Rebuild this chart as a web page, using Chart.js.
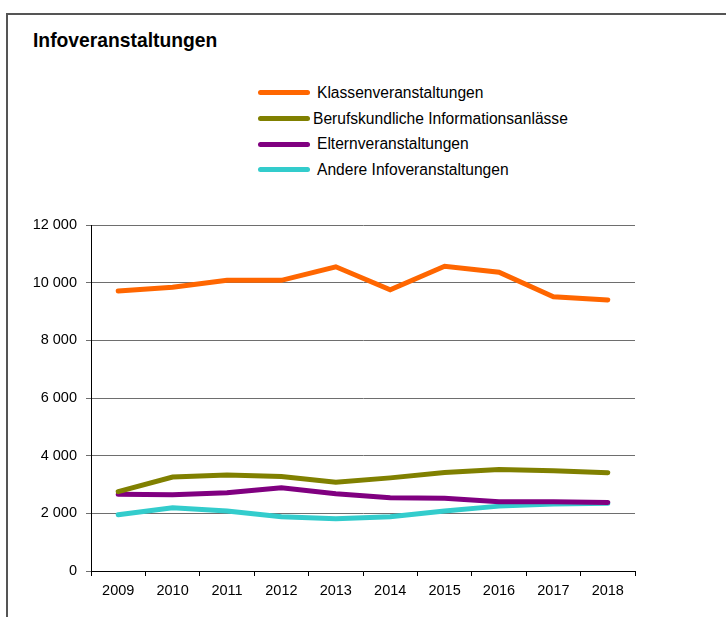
<!DOCTYPE html>
<html lang="de">
<head>
  <meta charset="UTF-8">
  <title>Infoveranstaltungen</title>
  <script src="https://cdn.jsdelivr.net/npm/chart.js"></script>
  <style>
    body {
      margin: 0;
      background: #fff;
      font-family: "Liberation Sans", Arial, sans-serif;
    }
    #wrap {
      position: relative;
      width: 726px;
      height: 617px;
      overflow: hidden;
    }
    #frame {
      position: absolute;
      left: 6px;
      top: 13px;
      width: 800px;
      height: 700px;
      border-left: 2px solid #555;
      border-top: 2px solid #555;
    }
    #titel {
      position: absolute;
      left: 33px;
      top: 30px;
      font-size: 19.3px;
      font-weight: bold;
      color: #000;
    }
    #legende {
      position: absolute;
      left: 258px;
      top: 80px;
    }
    .eintrag {
      height: 25.7px;
      display: flex;
      align-items: center;
      font-size: 15.6px;
      color: #000;
    }
    .strich {
      width: 52px;
      height: 5px;
      border-radius: 3px;
      margin-right: 7px;
    }
    canvas {
      position: absolute;
      left: 0;
      top: 0;
    }
  </style>
</head>
<body>
<div id="wrap">
  <div id="frame"></div>
  <div id="titel">Infoveranstaltungen</div>
  <div id="legende"></div>
  <canvas id="grafik" width="726" height="617"></canvas>
</div>

<script>
  // Jahre und Werte
  const jahre = ['2009', '2010', '2011', '2012', '2013', '2014', '2015', '2016', '2017', '2018'];

  const klassen = [9710, 9840, 10080, 10080, 10550, 9750, 10570, 10360, 9510, 9400];
  const berufskundlich = [2750, 3260, 3330, 3280, 3080, 3230, 3420, 3520, 3480, 3410];
  const eltern = [2660, 2645, 2710, 2890, 2680, 2540, 2520, 2400, 2400, 2380];
  const andere = [1950, 2190, 2080, 1880, 1810, 1880, 2080, 2250, 2320, 2350];

  const namen = ['Klassenveranstaltungen', 'Berufskundliche Informationsanlässe', 'Elternveranstaltungen', 'Andere Infoveranstaltungen'];
  const farben = ['#ff6600', '#808000', '#800080', '#33cccc'];
  const reihen = [klassen, berufskundlich, eltern, andere];

  // Legende als HTML
  const leg = document.getElementById('legende');
  namen.forEach((n, i) => {
    const row = document.createElement('div');
    row.className = 'eintrag';
    const s = document.createElement('span');
    s.className = 'strich';
    s.style.background = farben[i];
    if (i === 1) s.style.marginRight = '3px';
    const t = document.createElement('span');
    t.textContent = n;
    row.appendChild(s);
    row.appendChild(t);
    leg.appendChild(row);
  });

  function tausender(v) {
    return String(v).replace(/\B(?=(\d{3})+(?!\d))/g, ' ');
  }

  const ctx = document.getElementById('grafik').getContext('2d');
  new Chart(ctx, {
    type: 'line',
    data: {
      labels: jahre,
      datasets: reihen.map((d, i) => ({
        label: namen[i],
        data: d,
        borderColor: farben[i],
        backgroundColor: farben[i],
        borderWidth: 5,
        pointRadius: 0,
        tension: 0,
        borderCapStyle: 'round',
        borderJoinStyle: 'miter'
      }))
    },
    options: {
      responsive: false,
      animation: false,
      layout: {
        padding: { top: 225, right: 91, left: 0, bottom: 0 }
      },
      plugins: {
        legend: { display: false },
        tooltip: { enabled: false }
      },
      scales: {
        x: {
          offset: true,
          grid: {
            offset: true,
            drawOnChartArea: false,
            drawTicks: true,
            tickLength: 5,
            color: '#000'
          },
          border: { color: '#000', width: 1 },
          ticks: {
            color: '#000',
            padding: 6,
            maxRotation: 0,
            font: { family: 'Liberation Sans', size: 14.5 }
          },
          afterFit: s => { s.height = 46; }
        },
        y: {
          min: 0,
          max: 12000,
          grid: {
            color: '#6e6e6e',
            lineWidth: 1,
            tickLength: 5
          },
          border: { color: '#000', width: 1 },
          ticks: {
            stepSize: 2000,
            color: '#000',
            padding: 9,
            font: { family: 'Liberation Sans', size: 14.5 },
            callback: v => tausender(v)
          },
          afterFit: s => { s.width = 91; }
        }
      }
    }
  });
</script>
</body>
</html>
